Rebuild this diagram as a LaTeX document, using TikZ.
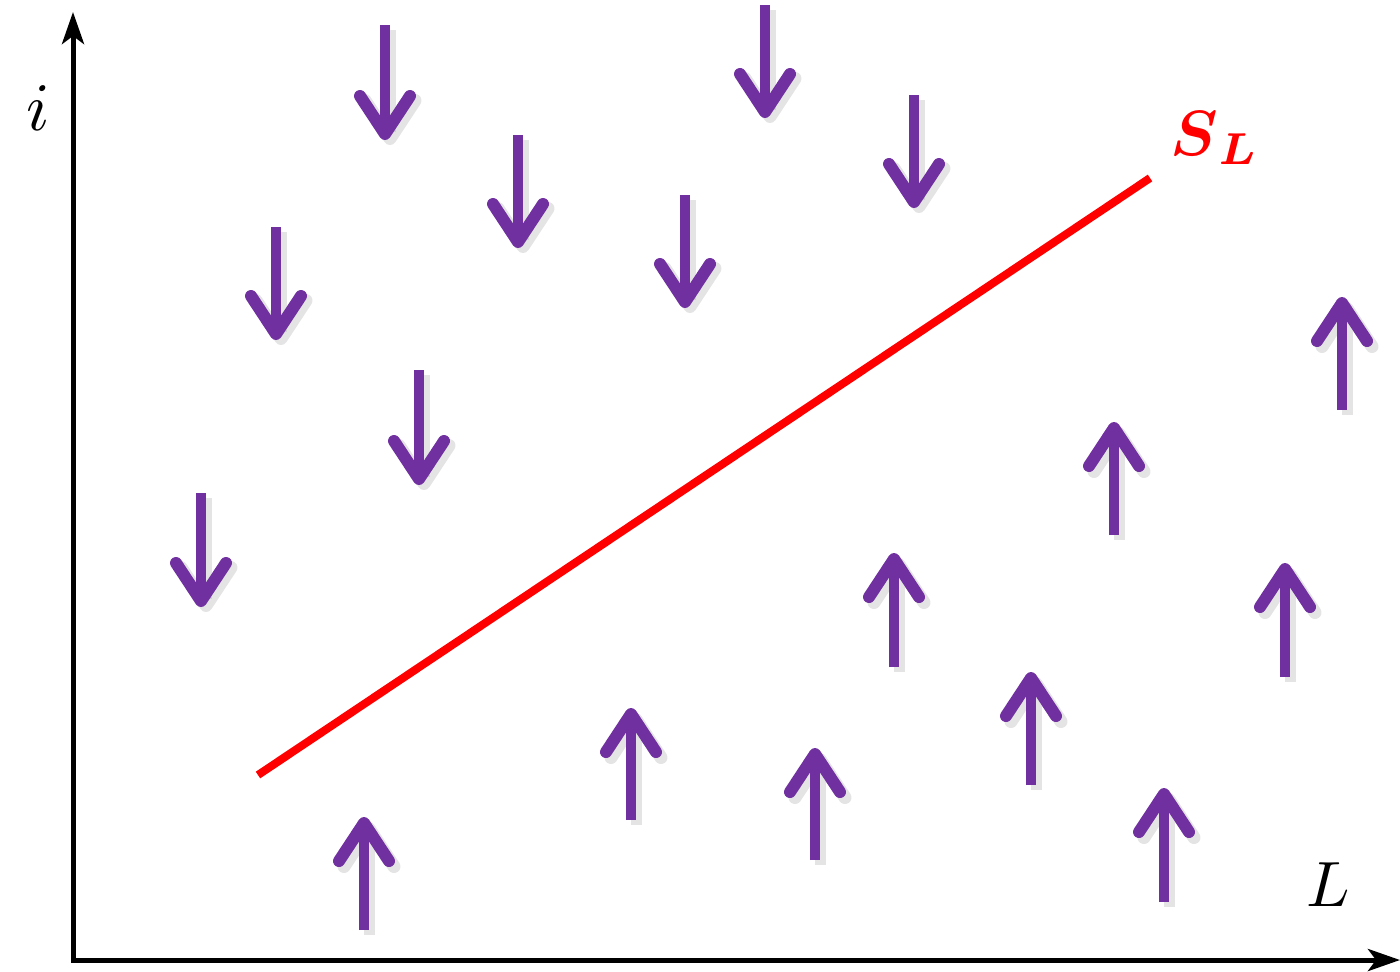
\documentclass[tikz,border=0pt]{standalone}
\usepackage{amsmath,amssymb}
\usepackage{xcolor}
\usepackage{tikz}
\usetikzlibrary{arrows.meta}

\definecolor{arrowpurple}{RGB}{112,48,160}

\begin{document}
\begin{tikzpicture}[x=0.5pt,y=-0.5pt,>=Stealth,
		axis/.style={line width=2.5pt,-{Stealth[length=16pt,width=11pt,inset=4pt]}},
		flow/.style={arrowpurple,line width=5pt,-{Straight Barb[length=19pt,width=25pt,line width=6pt,round]}},
		flowshadow/.style={black!35,opacity=0.3,line width=5.5pt,-{Straight Barb[length=19pt,width=25pt,line width=6.5pt,round]}}]
	\useasboundingbox (0,0) rectangle (1400,971);
	
	% 坐标轴
	\draw[axis] (73,960)--(73,12);
	\draw[axis] (71,960)--(1400,960);
	\node[scale=3.4] (ilabel) at (38,108) {$i$};
	\node[scale=3.2] (llabel) at (1328,885) {$L$};
	
	% 向下的箭头
	\foreach \x/\ya/\yb in {385/25/140, 765/5/118, 518/135/248, 914/95/208,
		685/195/308, 276/227/340, 419/370/485, 201/493/607}{
		\draw[flowshadow] (\x+5,\ya+5)--(\x+5,\yb+5);
		\draw[flow] (\x,\ya)--(\x,\yb);
	}
	
	% 向上的箭头
	\foreach \x/\ya/\yb in {1342/410/297, 1114/535/422, 894/667/553, 1285/677/563,
		1031/785/672, 631/820/708, 815/860/748, 1164/902/788, 364/930/817}{
		\draw[flowshadow] (\x+5,\ya+5)--(\x+5,\yb+5);
		\draw[flow] (\x,\ya)--(\x,\yb);
	}
	
	% 分界线
	\draw[red,line width=4pt] (258,775)--(1150,178);
	\node[text=red,scale=3.2] (slabel) at (1215,138) {$\boldsymbol{S}_{\boldsymbol{L}}$};
	
\end{tikzpicture}
\end{document}
